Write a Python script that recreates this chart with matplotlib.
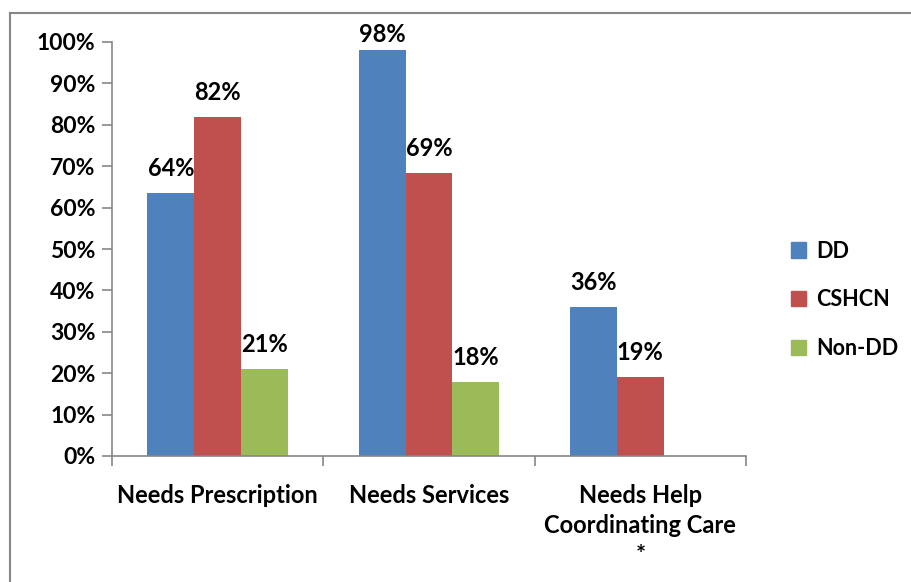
import numpy as np
import matplotlib
matplotlib.use('Agg')
import matplotlib.pyplot as plt
from matplotlib.lines import Line2D
from matplotlib.ticker import FixedLocator

plt.rcParams['font.family'] = ['Lato', 'DejaVu Sans']
plt.rcParams['font.weight'] = 'bold'

# Dados do gráfico
categories = ['Needs Prescription', 'Needs Services', 'Needs Help\nCoordinating Care\n*']
series_names = ['DD', 'CSHCN', 'Non-DD']
dd = [63.5, 98.1, 36.0]
cshcn = [81.9, 68.4, 19.0]
non_dd = [21.0, 17.9, None]
labels_dd = ['64%', '98%', '36%']
labels_cshcn = ['82%', '69%', '19%']
labels_non_dd = ['21%', '18%', None]
y_ticks = [0, 10, 20, 30, 40, 50, 60, 70, 80, 90, 100]

colors = ['#4F81BD', '#C0504D', '#9BBB59']
gray = '#868686'

fig = plt.figure(figsize=(9.11, 5.82), dpi=100)
ax = fig.add_axes([112/911, 1 - 456/582, (746 - 112)/911, (456 - 42)/582])

x = np.arange(len(categories))
w = 0.222
all_series = [(dd, labels_dd), (cshcn, labels_cshcn), (non_dd, labels_non_dd)]
for i, (vals, labs) in enumerate(all_series):
    pos = x + (i - 1) * w
    for p, v, lab in zip(pos, vals, labs):
        if v is None:
            continue
        ax.bar(p, v, width=w, color=colors[i], edgecolor='none')
        ax.text(p, min(v + 4.1, 100), lab, ha='center', va='baseline',
                fontsize=17, fontweight='bold')

ax.set_xlim(-0.5, 2.5)
ax.set_ylim(0, 100)
ax.set_yticks(y_ticks)
ax.set_yticklabels([f'{t}%' for t in y_ticks], fontsize=16.5, fontweight='bold')
ax.set_xticks(x)
ax.set_xticklabels(categories, fontsize=17, fontweight='bold', linespacing=1.38)
ax.xaxis.set_minor_locator(FixedLocator([-0.5, 0.5, 1.5, 2.5]))
ax.tick_params(axis='x', which='major', length=0, pad=20)
ax.tick_params(axis='x', which='minor', length=7, color=gray, width=1.2)
ax.tick_params(axis='y', length=7, color=gray, width=1.2, pad=5)

for s in ['top', 'right']:
    ax.spines[s].set_visible(False)
for s in ['left', 'bottom']:
    ax.spines[s].set_color(gray)
    ax.spines[s].set_linewidth(1.2)

handles = [plt.Rectangle((0, 0), 1, 1, color=c) for c in colors]
fig.legend(handles, series_names, loc='center left', bbox_to_anchor=(772/911, 1 - 300/582),
           frameon=False, prop={'weight': 'bold', 'size': 15.5},
           handlelength=0.7, handleheight=0.7, handletextpad=0.45, labelspacing=1.3)

# moldura da figura (só topo e esquerda aparecem)
fig.add_artist(Line2D([10/911, 1], [1 - 13/582, 1 - 13/582], color=gray, lw=1.5))
fig.add_artist(Line2D([10/911, 10/911], [0, 1 - 13/582], color=gray, lw=1.5))

fig.savefig('out.png', dpi=100)
